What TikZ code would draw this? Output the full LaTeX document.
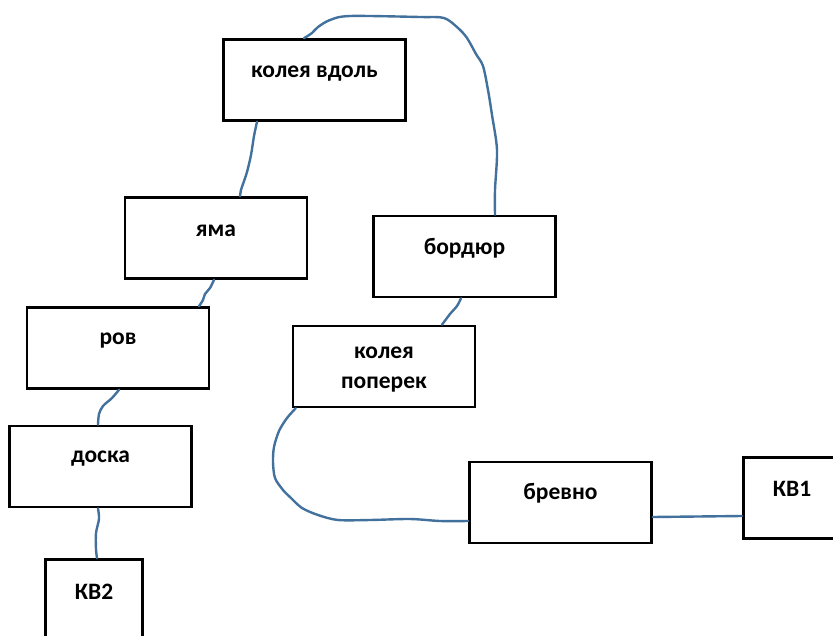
\documentclass[tikz,border=0pt]{standalone}
\usepackage{fontspec}
\setmainfont{Carlito}[BoldFont={Carlito Bold}]
\definecolor{conn}{HTML}{41719C}
\begin{document}
\begin{tikzpicture}[x=1pt,y=-1pt,
  box/.style={draw=black,line width=2.6pt,fill=white,rectangle,inner sep=0pt,minimum width=182pt,minimum height=81pt},
  smallbox/.style={box,minimum width=97.5pt},
  lbl/.style={font=\fontsize{23.5}{30}\selectfont\bfseries,inner sep=0pt,align=center},
  wire/.style={draw=conn,line width=2.4pt,line cap=round,line join=round}]
\useasboundingbox (0,0) rectangle (833,635);
\clip (0,0) rectangle (833,635);
% boxes
\node[box] (kv) at (314.5,80) {};
\node[box] (yama) at (216,238) {};
\node[box] (bord) at (464.5,256.5) {};
\node[box] (rov) at (118,348) {};
\node[box] (kp) at (384,366.5) {};
\node[box] (doska) at (100.5,466.5) {};
\node[box] (brevno) at (560.5,502.5) {};
\node[smallbox] (kv1) at (792,498) {};
\node[smallbox] (kv2) at (94,600) {};
% labels
\node[lbl] (tkv) at ([yshift=-35pt]kv.north) {колея вдоль};
\node[lbl] (tyama) at ([yshift=-35pt]yama.north) {яма};
\node[lbl] (tbord) at ([yshift=-34pt]bord.north) {бордюр};
\node[lbl] (trov) at ([yshift=-34pt]rov.north) {ров};
\node[lbl] (tkp) at ([yshift=-44.5pt]kp.north) {колея\\поперек};
\node[lbl] (tdoska) at ([yshift=-34pt]doska.north) {доска};
\node[lbl] (tbrevno) at ([yshift=-33pt]brevno.north) {бревно};
\node[lbl] (tkv1) at ([yshift=-33pt]kv1.north) {КВ1};
\node[lbl] (tkv2) at ([yshift=-34pt]kv2.north) {КВ2};
% connector end points
\coordinate (kvS) at ([xshift=-57.5pt]kv.south);
\coordinate (yamaN) at ([xshift=24pt]yama.north);
\coordinate (yamaS) at ([xshift=-2pt]yama.south);
\coordinate (rovN) at ([xshift=81pt]rov.north);
\coordinate (rovS) at ([xshift=1pt]rov.south);
\coordinate (doskaN) at ([xshift=-2.5pt]doska.north);
\coordinate (doskaS) at ([xshift=-2.5pt]doska.south);
\coordinate (kv2N) at ([xshift=3pt]kv2.north);
\coordinate (bordS) at ([xshift=-3.5pt]bord.south);
\coordinate (kpN) at ([xshift=58pt]kp.north);
\coordinate (bordN) at ([xshift=30.5pt]bord.north);
\coordinate (kvN) at ([xshift=-10.5pt]kv.north);
\coordinate (kpSW) at ([xshift=4pt]kp.south west);
\coordinate (brevnoW) at ([yshift=-18.5pt]brevno.west);
% connectors
\draw[wire] plot[smooth] coordinates {(kvS) (254,136) (251,155) (247,172) (243,184) (241,190) (yamaN)};
\draw[wire] plot[smooth] coordinates {(yamaS) (210,288) (205,294) (203,300) (rovN)};
\draw[wire] plot[smooth] coordinates {(rovS) (112,398) (103,406) (99,414) (doskaN)};
\draw[wire] plot[smooth] coordinates {(doskaS) (99,519) (96,533) (96,549) (kv2N)};
\draw[wire] plot[smooth] coordinates {(bordS) (457,306) (450,314) (kpN)};
\draw[wire] plot[smooth] coordinates {(bordN) (495,190) (497,150) (492,115) (488,90) (483,66) (476,54) (467,38) (458,28) (444,18) (420,17) (350,16) (330,20) (318,27) (312,33) (kvN)};
\draw[wire] plot[smooth] coordinates {(kpSW) (287,418) (279,431) (274,447) (273,462) (275,478) (283,490) (291,498) (302,508) (318,515) (338,520) (370,520) (410,519) (440,521) (brevnoW)};
\draw[wire] (brevno.east |- 0,517) -- (kv1.west |- 0,516);
\end{tikzpicture}
\end{document}
